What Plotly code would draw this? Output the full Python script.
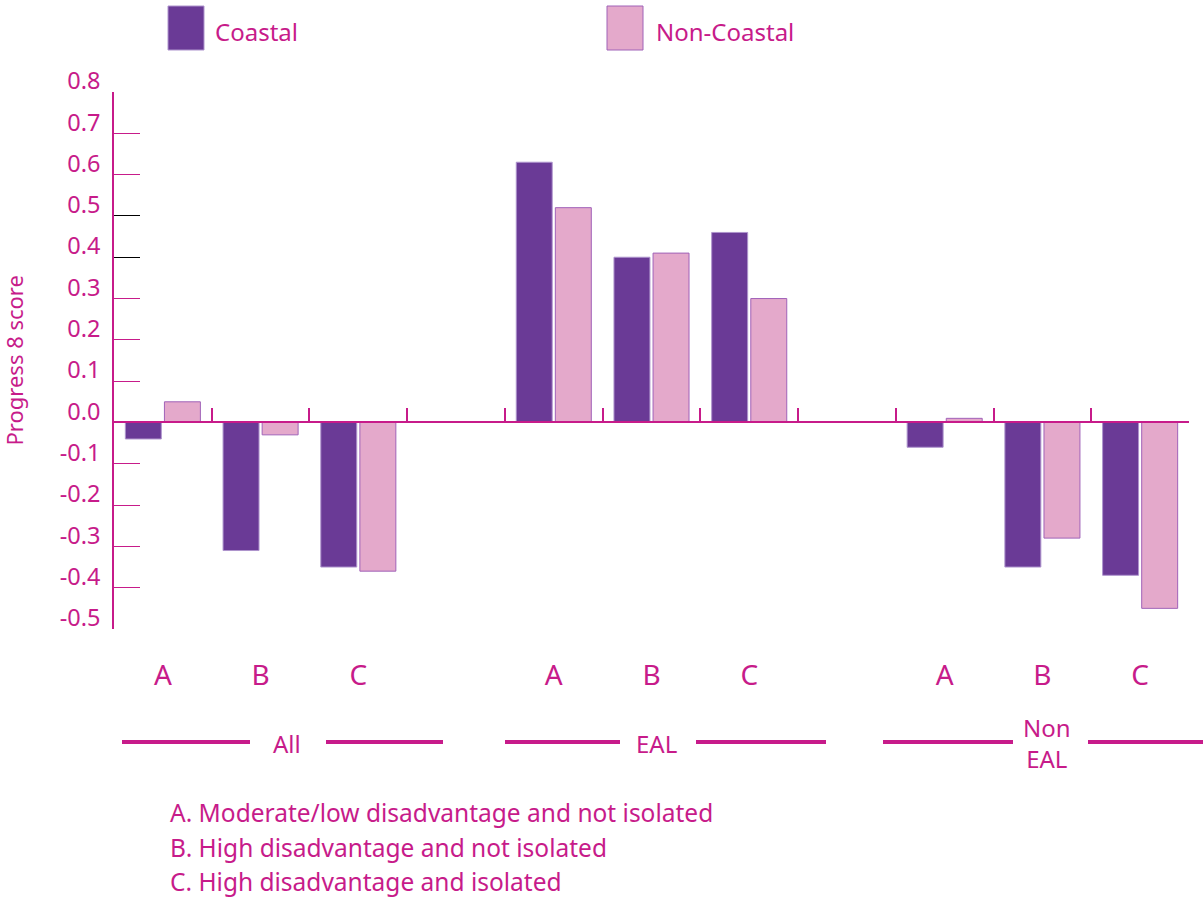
import plotly.graph_objects as go

# ---------------- data ----------------
groups = ["All", "EAL", "Non<br>EAL"]
subcats = ["A", "B", "C"]
series_names = ["Coastal", "Non-Coastal"]
coastal = [-0.04, -0.31, -0.35, 0.63, 0.40, 0.46, -0.06, -0.35, -0.37]
non_coastal = [0.05, -0.03, -0.36, 0.52, 0.41, 0.30, 0.01, -0.28, -0.45]
y_tickvals = [-0.5, -0.4, -0.3, -0.2, -0.1, 0.0, 0.1, 0.2, 0.3, 0.4, 0.5, 0.6, 0.7, 0.8]
y_ticktext = ["-0.5", "-0.4", "-0.3", "-0.2", "-0.1", "0.0", "0.1", "0.2", "0.3", "0.4",
              "0.5", "0.6", "0.7", "0.8"]
footnotes = ["A. Moderate/low disadvantage and not isolated",
             "B. High disadvantage and not isolated",
             "C. High disadvantage and isolated"]
y_title = "Progress 8 score"

# ---------------- style ----------------
MAG = "#C71B8A"
C_FILL, C_LINE = "#6A3A96", "#AE94CD"
N_FILL, N_LINE = "#E4A9CB", "#A062B8"
FONT = "Noto Sans"
W, H = 1203, 900
L, R, T, B = 114, 14, 92, 271

def px2x(px):
    return (px - L) / (W - L - R)

def py2y(py):
    return (H - B - py) / (H - T - B)

xs = [g * 4 + s for g in range(len(groups)) for s in range(len(subcats))]
xlabels = [subcats[s] for g in range(len(groups)) for s in range(len(subcats))]
boundaries = [i + 0.5 for i in range(11)]

fig = go.Figure()
fig.add_trace(go.Bar(x=xs, y=coastal, name=series_names[0],
                     marker=dict(color=C_FILL, line=dict(color=C_LINE, width=1)),
                     showlegend=False))
fig.add_trace(go.Bar(x=xs, y=non_coastal, name=series_names[1],
                     marker=dict(color=N_FILL, line=dict(color=N_LINE, width=1)),
                     showlegend=False))
# empty helper trace so that the overlay axes (zero line with ticks, black ticks) are drawn
fig.add_trace(go.Scatter(x=[None], y=[None], xaxis="x2", yaxis="y2", mode="markers",
                         showlegend=False, hoverinfo="skip"))

ymin, ymax = -0.5, 0.8
fig.update_layout(
    width=W, height=H, autosize=False,
    margin=dict(l=L, r=R, t=T, b=B, pad=0),
    paper_bgcolor="white", plot_bgcolor="white",
    font=dict(family=FONT, color=MAG),
    barmode="group", bargap=0.2, bargroupgap=0.08,
    xaxis=dict(range=[-0.5, 10.5], tickvals=xs, ticktext=xlabels,
               showline=False, showgrid=False, zeroline=False, ticks="",
               tickfont=dict(size=28, color=MAG), ticklabelstandoff=27),
    xaxis2=dict(overlaying="x", anchor="free", position=(0 - ymin) / (ymax - ymin),
                range=[-0.5, 10.5], tickvals=boundaries, ticks="inside", ticklen=13,
                tickcolor=MAG, tickwidth=1.5, showline=True, linecolor=MAG, linewidth=2,
                showticklabels=False, showgrid=False, zeroline=False),
    yaxis=dict(range=[ymin, ymax], tickvals=y_tickvals, ticktext=y_ticktext,
               ticks="inside", ticklen=26, tickwidth=1.3, tickcolor=MAG,
               showline=True, linecolor=MAG, linewidth=1.5,
               showgrid=False, zeroline=False,
               ticklabelshift=-11, ticklabelstandoff=7,
               tickfont=dict(size=23.5, color=MAG)),
    yaxis2=dict(overlaying="y", anchor="x", side="left", range=[ymin, ymax],
                tickvals=[0.4, 0.5], ticks="inside", ticklen=26, tickwidth=1.3,
                tickcolor="black", showticklabels=False, showline=False,
                showgrid=False, zeroline=False),
)

shapes = []
annotations = []

# y-axis title
annotations.append(dict(text=y_title, xref="paper", yref="paper", x=px2x(13), y=0.5,
                        textangle=-90, showarrow=False, xanchor="center", yanchor="middle",
                        font=dict(size=22, color=MAG)))

# custom legend
leg = [(168, 204, 213, series_names[0], C_FILL, C_LINE),
       (607, 643, 654, series_names[1], N_FILL, N_LINE)]
for x0, x1, tx, name, fill, line in leg:
    shapes.append(dict(type="rect", xref="paper", yref="paper",
                       x0=px2x(x0), x1=px2x(x1), y0=py2y(50), y1=py2y(6),
                       fillcolor=fill, line=dict(color=line, width=1)))
    annotations.append(dict(text=name, xref="paper", yref="paper", x=px2x(tx), y=py2y(32),
                            xanchor="left", yanchor="middle", showarrow=False,
                            font=dict(size=24, color=MAG)))

# group labels with lines
grp_geom = [((122, 250), (326, 443), 287),
            ((505, 620), (696, 826), 656),
            ((883, 1013), (1088, 1203), 1047)]
for name, (l1, l2, tc) in zip(groups, grp_geom):
    for a, b in (l1, l2):
        shapes.append(dict(type="line", xref="paper", yref="paper",
                           x0=px2x(a), x1=px2x(b), y0=py2y(742), y1=py2y(742),
                           line=dict(color=MAG, width=4)))
    annotations.append(dict(text=name, xref="paper", yref="paper", x=px2x(tc), y=py2y(743),
                            xanchor="center", yanchor="middle", showarrow=False,
                            font=dict(size=24, color=MAG)))

# footnotes
for txt, yc in zip(footnotes, (812, 847, 881)):
    annotations.append(dict(text=txt, xref="paper", yref="paper", x=px2x(168), y=py2y(yc),
                            xanchor="left", yanchor="middle", showarrow=False,
                            font=dict(size=24.5, color=MAG)))

fig.update_layout(shapes=shapes, annotations=annotations)
fig.write_html("out.html", config={"displayModeBar": False},
               post_script="document.body.style.margin='0px';")
